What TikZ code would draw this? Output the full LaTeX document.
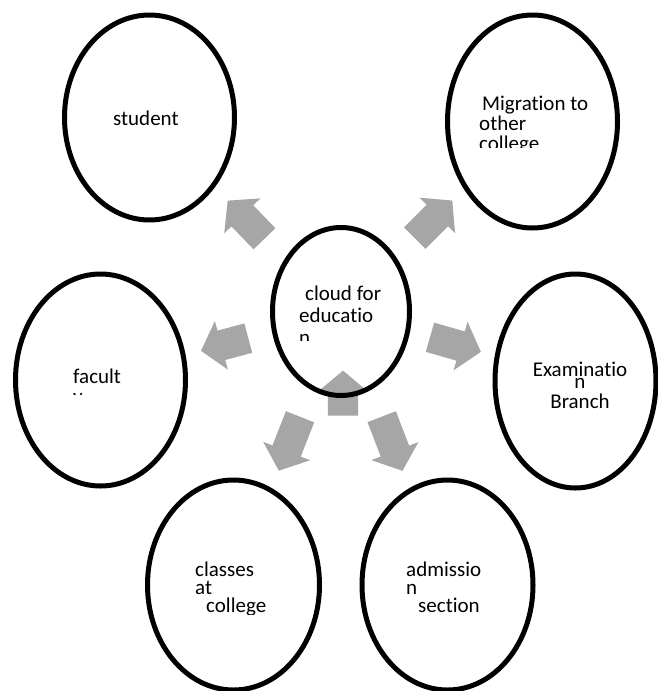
\documentclass[tikz,border=0pt]{standalone}
\usepackage{fontspec}
\setmainfont{Carlito}[Ligatures=CommonOff]
\usetikzlibrary{shapes.geometric, shapes.arrows}

\begin{document}
\begin{tikzpicture}[
    x=1pt, y=-1pt,
    font=\fontsize{21}{20}\selectfont,
    bubble/.style={ellipse, draw, line width=5pt, inner sep=0pt},
    blockarrow/.style={single arrow, fill=black!35, draw=none, inner xsep=0pt, inner ysep=15pt, minimum width=50pt, single arrow head extend=10pt, single arrow tip angle=100},
    lbl/.style={inner sep=0pt, align=left, anchor=base west}
]
\useasboundingbox (0,0) rectangle (657,691);

% Arrows round the centre
\node[blockarrow, minimum height=53pt, rotate=134] (arr_student) at (250.5,224.3) {};
\node[blockarrow, minimum height=53pt, rotate=45] (arr_migration) at (429,223.8) {};
\node[blockarrow, minimum height=49pt, rotate=195] (arr_faculty) at (230.8,342.8) {};
\node[blockarrow, minimum height=53pt, rotate=-16] (arr_exam) at (449.3,342.8) {};
\node[blockarrow, minimum height=58pt, rotate=248.5] (arr_classes) at (291.8,437.8) {};
\node[blockarrow, minimum height=58pt, rotate=291] (arr_admission) at (389.8,437.8) {};
\node[blockarrow, minimum height=45pt, rotate=90] (arr_cloud) at (343,399.5) {};

% Bubbles
\node[bubble, minimum width=170pt, minimum height=205pt] (student) at (149.5,117.5) {};
\node[bubble, minimum width=170pt, minimum height=213pt] (migration) at (532.5,121.5) {};
\node[bubble, minimum width=137pt, minimum height=168pt] (cloud) at (341,311.5) {};
\node[bubble, minimum width=170pt, minimum height=212pt] (faculty) at (100.5,380) {};
\node[bubble, minimum width=161pt, minimum height=214pt] (exam) at (575.5,381) {};
\node[bubble, minimum width=172pt, minimum height=210pt] (classes) at (233.5,585) {};
\node[bubble, minimum width=171pt, minimum height=210pt] (admission) at (447.5,585) {};

% Texts (anchored at the baseline of their last line)
\node[lbl] (student_txt) at (113,125) {student};
\begin{scope}
    \clip (440,60) rectangle (640,147);
    \node[lbl] (migration_txt) at (479,150) {\hspace{3pt}Migration to\\other\\college};
\end{scope}
\begin{scope}
    \clip (280,260) rectangle (410,340);
    \node[lbl, font=\fontsize{21}{22}\selectfont] (cloud_txt) at (299,344) {\hspace{6pt}cloud for\\educatio\\n};
\end{scope}
\begin{scope}
    \clip (40,340) rectangle (180,394.5);
    \node[lbl] (faculty_txt) at (73,403) {facult\\y};
\end{scope}
\node[lbl, align=center, anchor=base] (exam_txt) at (580,408) {Examinatio\\[-8pt]n\\Branch};
\begin{scope}
    \clip (170,540) rectangle (320,614.5);
    \node[lbl, font=\fontsize{21}{18}\selectfont] (classes_txt) at (195,612) {classes\\at\\\hspace{11pt}college};
\end{scope}
\begin{scope}
    \clip (380,540) rectangle (530,615.5);
    \node[lbl, font=\fontsize{21}{18}\selectfont] (admission_txt) at (406,612) {admissio\\n\\\hspace{12pt}section};
\end{scope}

\end{tikzpicture}
\end{document}
